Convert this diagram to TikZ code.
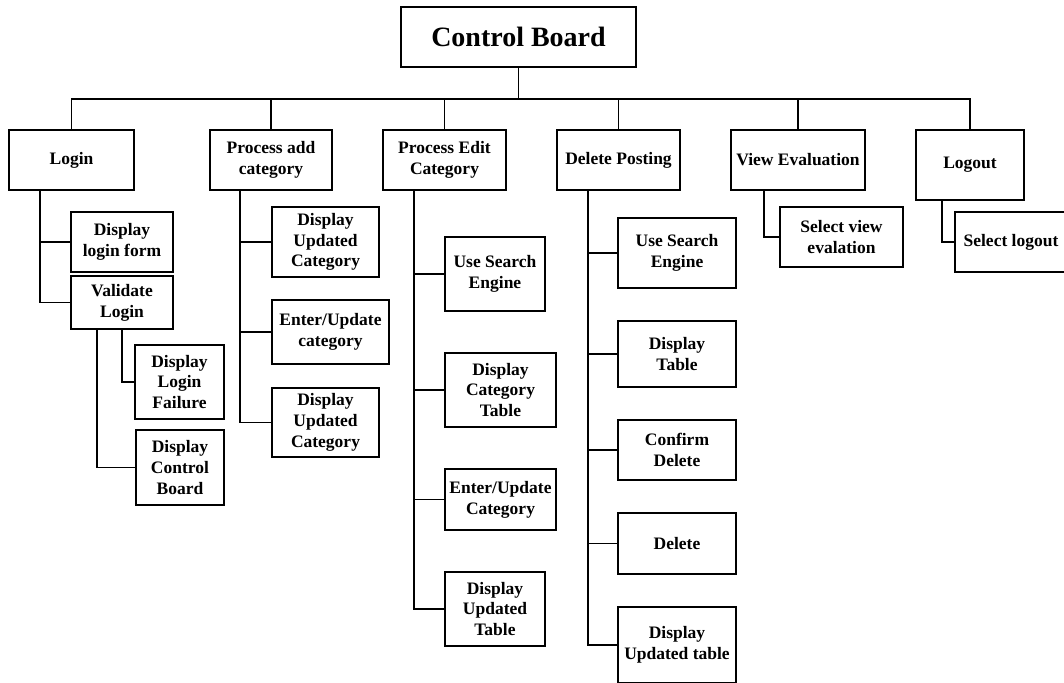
\documentclass[tikz,border=0pt]{standalone}
\usepackage{fontspec}
\setmainfont{Liberation Serif}
\newcommand{\boxfont}{\fontsize{17.5}{20.8}\selectfont\bfseries}
\newcommand{\titlefont}{\fontsize{28}{32}\selectfont\bfseries}

\begin{document}
\begin{tikzpicture}[x=1pt,y=-1pt,line width=1.1pt,
  box/.style={draw, align=center, inner sep=0pt, outer sep=0pt, font=\boxfont}]
  \useasboundingbox (0,0) rectangle (1064,682);
  \clip (0,0) rectangle (1064,682);

  \node[box, font=\titlefont, minimum width=235pt, minimum height=60pt] (root) at (518.5,37) {Control Board};

  \node[box, minimum width=125pt, minimum height=60pt] (login)    at (71.5,160)  {Login};
  \node[box, minimum width=122pt, minimum height=60pt] (padd)     at (271,160)   {Process add\\category};
  \node[box, minimum width=123pt, minimum height=60pt] (pedit)    at (444.5,160) {Process Edit\\Category};
  \node[box, minimum width=123pt, minimum height=60pt] (delpost)  at (618.5,160) {Delete Posting};
  \node[box, minimum width=134pt, minimum height=60pt] (vieweval) at (798,160)   {View Evaluation};
  \node[box, minimum width=108pt, minimum height=70pt] (logout)   at (970,165)   {Logout};

  \coordinate (bus) at (518.5,99);
  \draw (root.south) -- (bus);
  \draw (login.north) |- (bus) -| (logout.north);
  \foreach \n in {padd,pedit,delpost,vieweval}
    \draw (\n.north) -- (\n.north |- bus);

  % login
  \node[box, minimum width=102pt, minimum height=60pt] (dlf)    at (122,242)   {Display\\login form};
  \node[box, minimum width=102pt, minimum height=53pt] (vlogin) at (122,302.5) {Validate\\Login};
  \node[box, minimum width=89pt, minimum height=74pt]  (dlfail) at (179.5,382) {Display\\Login\\Failure};
  \node[box, minimum width=88pt, minimum height=75pt]  (dcb)    at (180,467.5) {Display\\Control\\Board};
  \draw ([xshift=31pt]login.south west) |- (dlf.west);
  \draw ([xshift=31pt]login.south west) |- (vlogin.west);
  \draw ([xshift=51pt]vlogin.south west) |- (dlfail.west);
  \draw ([xshift=26pt]vlogin.south west) |- (dcb.west);

  % process add category
  \node[box, minimum width=107pt, minimum height=70pt] (duca) at (325.5,242)   {Display\\Updated\\Category};
  \node[box, minimum width=117pt, minimum height=64pt] (euca) at (330.5,332)   {Enter/Update\\category};
  \node[box, minimum width=107pt, minimum height=69pt] (ducb) at (325.5,422.5) {Display\\Updated\\Category};
  \foreach \n in {duca,euca,ducb}
    \draw ([xshift=30pt]padd.south west) |- (\n.west);

  % process edit category
  \node[box, minimum width=100pt, minimum height=74pt] (usea) at (495,274)     {Use Search\\Engine};
  \node[box, minimum width=111pt, minimum height=74pt] (dct)  at (500.5,390)   {Display\\Category\\Table};
  \node[box, minimum width=111pt, minimum height=61pt] (eucb) at (500.5,499.5) {Enter/Update\\Category};
  \node[box, minimum width=100pt, minimum height=74pt] (duta) at (495,609)     {Display\\Updated\\Table};
  \foreach \n in {usea,dct,eucb,duta}
    \draw ([xshift=31pt]pedit.south west) |- (\n.west);

  % delete posting
  \node[box, minimum width=118pt, minimum height=70pt] (useb) at (677,253)   {Use Search\\Engine};
  \node[box, minimum width=118pt, minimum height=66pt] (dtab) at (677,354)   {Display\\Table};
  \node[box, minimum width=118pt, minimum height=60pt] (cdel) at (677,450)   {Confirm\\Delete};
  \node[box, minimum width=118pt, minimum height=61pt] (del)  at (677,543.5) {Delete};
  \node[box, minimum width=118pt, minimum height=76pt] (dutb) at (677,645)   {Display\\Updated table};
  \foreach \n in {useb,dtab,cdel,del,dutb}
    \draw ([xshift=31pt]delpost.south west) |- (\n.west);

  % view evaluation, logout
  \node[box, minimum width=123pt, minimum height=60pt] (sve)  at (841.5,237) {Select view\\evalation};
  \node[box, minimum width=112pt, minimum height=60pt] (slog) at (1011,242)  {Select logout};
  \draw ([xshift=33pt]vieweval.south west) |- (sve.west);
  \draw ([xshift=26pt]logout.south west) |- (slog.west);
\end{tikzpicture}
\end{document}
